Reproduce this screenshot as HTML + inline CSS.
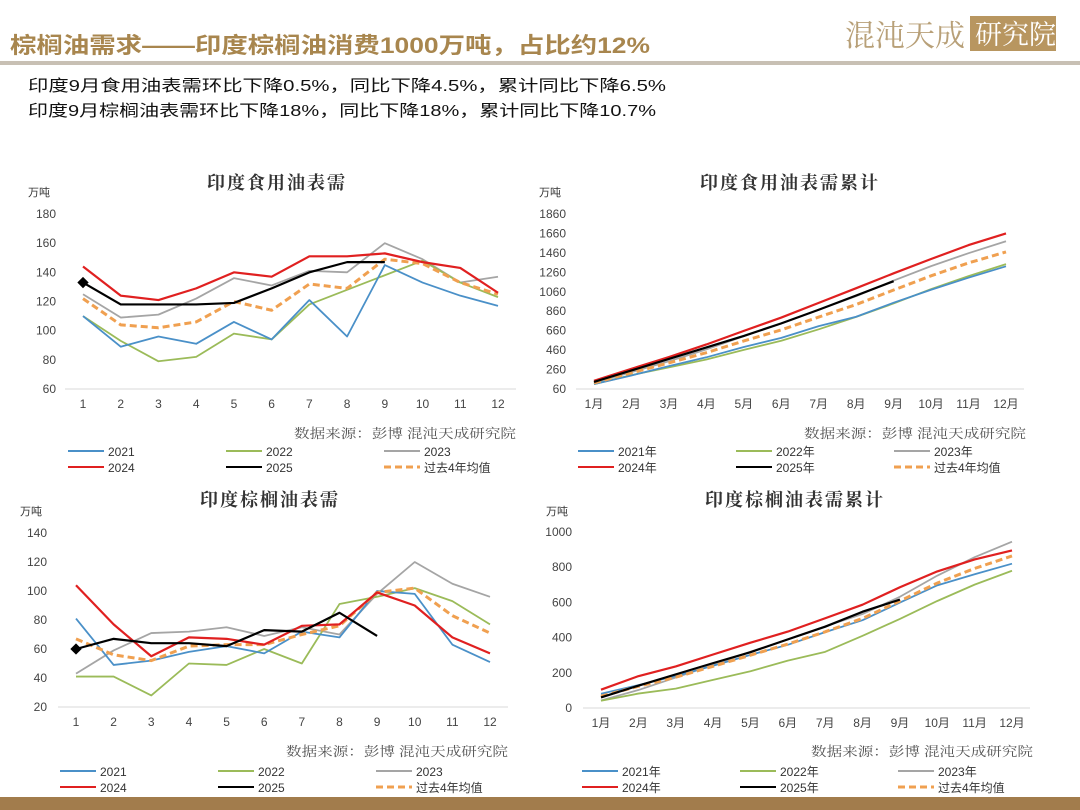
<!DOCTYPE html>
<html><head><meta charset="utf-8"><style>
body{margin:0;background:#fff;}
svg{display:block;font-family:"Liberation Sans","Noto Sans CJK SC",sans-serif;}
</style></head><body>
<svg id="s" width="1080" height="810" viewBox="0 0 1080 810">
<text x="10" y="53" font-size="22" font-weight="bold" fill="#a8864e" textLength="640" lengthAdjust="spacingAndGlyphs">棕榈油需求——印度棕榈油消费1000万吨，占比约12%</text>
<rect x="0" y="61" width="1080" height="4" fill="#c8c0b4"/>
<g>
<text x="845" y="46" font-size="30" fill="#b8a078" font-family="'Noto Serif CJK SC',serif">混沌天成</text>
<rect x="970" y="16" width="86" height="35" fill="#b89660"/>
<text x="975" y="44" font-size="27" fill="#fff" font-family="'Noto Serif CJK SC',serif">研究院</text>
</g>
<text x="28" y="91" font-size="16" fill="#111" textLength="638" lengthAdjust="spacingAndGlyphs">印度9月食用油表需环比下降0.5%，同比下降4.5%，累计同比下降6.5%</text>
<text x="28" y="116" font-size="16" fill="#111" textLength="628" lengthAdjust="spacingAndGlyphs">印度9月棕榈油表需环比下降18%，同比下降18%，累计同比下降10.7%</text>
<rect x="0" y="797" width="1080" height="13" fill="#a27c4c"/>
</svg>
<script>
// Chart 1: India edible oil demand (monthly)
const months = [1,2,3,4,5,6,7,8,9,10,11,12];
const monthsCN = ["1月","2月","3月","4月","5月","6月","7月","8月","9月","10月","11月","12月"];
const edible2021 = [110,89,96,91,106,94,121,96,145,133,124,117];
const edible2022 = [110,93,79,82,98,94,118,128,138,148,133,123];
const edible2023 = [125,109,111,122,136,131,141,140,160,149,133,137];
const edible2024 = [144,124,121,129,140,137,151,151,153,147,143,126];
const edible2025 = [133,118,118,118,119,129,140,147,147];
const edibleAvg = [122,104,102,106,120,114,132,129,149,146,133,125];
const edibleTicks = [60,80,100,120,140,160,180];
// Chart 2: cumulative edible oil
const edCum2021 = [110,199,295,386,492,586,707,803,948,1081,1205,1322];
const edCum2022 = [110,203,282,364,462,556,674,802,940,1088,1221,1344];
const edCum2023 = [125,234,345,467,603,734,875,1015,1175,1324,1457,1580];
const edCum2024 = [144,268,389,518,658,795,946,1097,1250,1397,1540,1660];
const edCum2025 = [133,251,369,487,606,735,875,1022,1169];
const edCumAvg = [122,226,328,434,554,668,800,929,1078,1224,1357,1470];
const edCumTicks = [60,260,460,660,860,1060,1260,1460,1660,1860];
// Chart 3: palm oil demand (monthly)
const palm2021 = [81,49,52,58,62,57,72,68,100,98,63,51];
const palm2022 = [41,41,28,50,49,60,50,91,96,102,93,77];
const palm2023 = [43,59,71,72,75,69,75,70,98,120,105,96];
const palm2024 = [104,77,55,68,67,63,76,77,99,90,68,57];
const palm2025 = [60,67,64,64,62,73,72,85,69];
const palmAvg = [67,56,52,62,63,63,70,76,99,102,83,71];
const palmTicks = [20,40,60,80,100,120,140];
// Chart 4: cumulative palm oil
const pCum2021 = [81,130,182,240,302,359,431,499,599,697,760,820];
const pCum2022 = [41,82,110,160,209,269,319,410,506,608,701,780];
const pCum2023 = [43,102,173,245,320,389,464,534,632,752,857,945];
const pCum2024 = [104,181,236,304,371,434,510,587,686,776,844,895];
const pCum2025 = [60,127,191,255,317,390,462,547,616];
const pCumAvg = [67,123,175,237,300,363,433,509,608,710,793,864];
const pCumTicks = [0,200,400,600,800,1000];

const NS="http://www.w3.org/2000/svg";
const svg=document.getElementById('s');
function mk(tag,attrs,parent){const e=document.createElementNS(NS,tag);for(const k in attrs)e.setAttribute(k,attrs[k]);(parent||svg).appendChild(e);return e;}
const colors=["#4a90c8","#9bbb59","#a5a5a5","#e02020","#000000","#f0a050"];
function chart(c){
  const g=mk('g',{});
  
  
  const ymin=c.ticks[0],ymax=c.ticks[c.ticks.length-1];
  const ys=v=>c.yb+(v-ymin)/(ymax-ymin)*(c.yt-c.yb);
  const xs=i=>c.x0+i*(c.x1-c.x0)/11;
  const t=mk('text',{x:c.tx,y:c.ty,'font-size':18,'font-weight':'bold','text-anchor':'middle',fill:'#333','font-family':"'Noto Serif CJK SC',serif",'letter-spacing':2},g);t.textContent=c.title;
  
  const u=mk('text',{x:c.ux,y:c.uy,'font-size':11,fill:'#333'},g);u.textContent='万吨';
  
  c.ticks.forEach(v=>{const tt=mk('text',{x:c.yl,y:ys(v)+4,'font-size':12,'text-anchor':'end',fill:'#444'},g);tt.textContent=v;
    });
  const ax=mk('line',{x1:c.x0-18,x2:c.x1+18,y1:c.yb,y2:c.yb,stroke:'#d9d9d9','stroke-width':1},g);
  
  c.xl.forEach((l,i)=>{const tt=mk('text',{x:xs(i),y:c.yb+19,'font-size':12,'text-anchor':'middle',fill:'#444'},g);tt.textContent=l;
    });
  const order=[2,1,0,5,3,4];
  order.forEach(k=>{const d=c.series[k];
    const p=mk('polyline',{points:d.map((v,i)=>xs(i)+','+ys(v)).join(' '),fill:'none',stroke:colors[k],'stroke-width':k==5?3:(k>=3?2.2:1.8),'stroke-dasharray':k==5?'7,4':'none','stroke-linejoin':'round'},g);
    });
  if(c.marker){const m=mk('rect',{x:xs(0)-4,y:ys(c.series[4][0])-4,width:8,height:8,fill:'#000',transform:`rotate(45 ${xs(0)} ${ys(c.series[4][0])})`},g);
    }
  const src=mk('text',{x:c.sx-222,y:c.sy,'font-size':13,fill:'#555',textLength:222,lengthAdjust:'spacingAndGlyphs','font-family':"'Noto Serif CJK SC',serif"},g);src.textContent='数据来源：彭博   混沌天成研究院';
  
  c.labels.forEach((l,k)=>{const lx=c.lx+(k%3)*158, ly=c.ly+Math.floor(k/3)*16;
    const le=mk('g',{},g);
    mk('line',{x1:lx,x2:lx+36,y1:ly,y2:ly,stroke:colors[k],'stroke-width':k==5?3:2,'stroke-dasharray':k==5?'7,4':'none'},le);
    const lt=mk('text',{x:lx+40,y:ly+5,'font-size':12,fill:'#333'},le);lt.textContent=l;});
}
chart({name:'edible-oil-demand-chart',title:'印度食用油表需',tx:277,ty:189,ux:28,uy:196,yl:56,x0:83,x1:498,yt:214,yb:389,ticks:edibleTicks,xl:months,
  series:[edible2021,edible2022,edible2023,edible2024,edible2025,edibleAvg],labels:['2021','2022','2023','2024','2025','过去4年均值'],marker:true,sx:516,sy:438,lx:68,ly:451});
chart({name:'edible-oil-cumulative-chart',title:'印度食用油表需累计',tx:790,ty:189,ux:539,uy:196,yl:566,x0:594,x1:1006,yt:214,yb:389,ticks:edCumTicks,xl:monthsCN,
  series:[edCum2021,edCum2022,edCum2023,edCum2024,edCum2025,edCumAvg],labels:['2021年','2022年','2023年','2024年','2025年','过去4年均值'],marker:false,sx:1026,sy:438,lx:578,ly:451});
chart({name:'palm-oil-demand-chart',title:'印度棕榈油表需',tx:270,ty:506,ux:20,uy:515,yl:47,x0:76,x1:490,yt:533,yb:707,ticks:palmTicks,xl:months,
  series:[palm2021,palm2022,palm2023,palm2024,palm2025,palmAvg],labels:['2021','2022','2023','2024','2025','过去4年均值'],marker:true,sx:508,sy:756,lx:60,ly:771});
chart({name:'palm-oil-cumulative-chart',title:'印度棕榈油表需累计',tx:795,ty:506,ux:546,uy:515,yl:572,x0:601,x1:1012,yt:532,yb:708,ticks:pCumTicks,xl:monthsCN,
  series:[pCum2021,pCum2022,pCum2023,pCum2024,pCum2025,pCumAvg],labels:['2021年','2022年','2023年','2024年','2025年','过去4年均值'],marker:false,sx:1033,sy:756,lx:582,ly:771});
</script>
</body></html>
